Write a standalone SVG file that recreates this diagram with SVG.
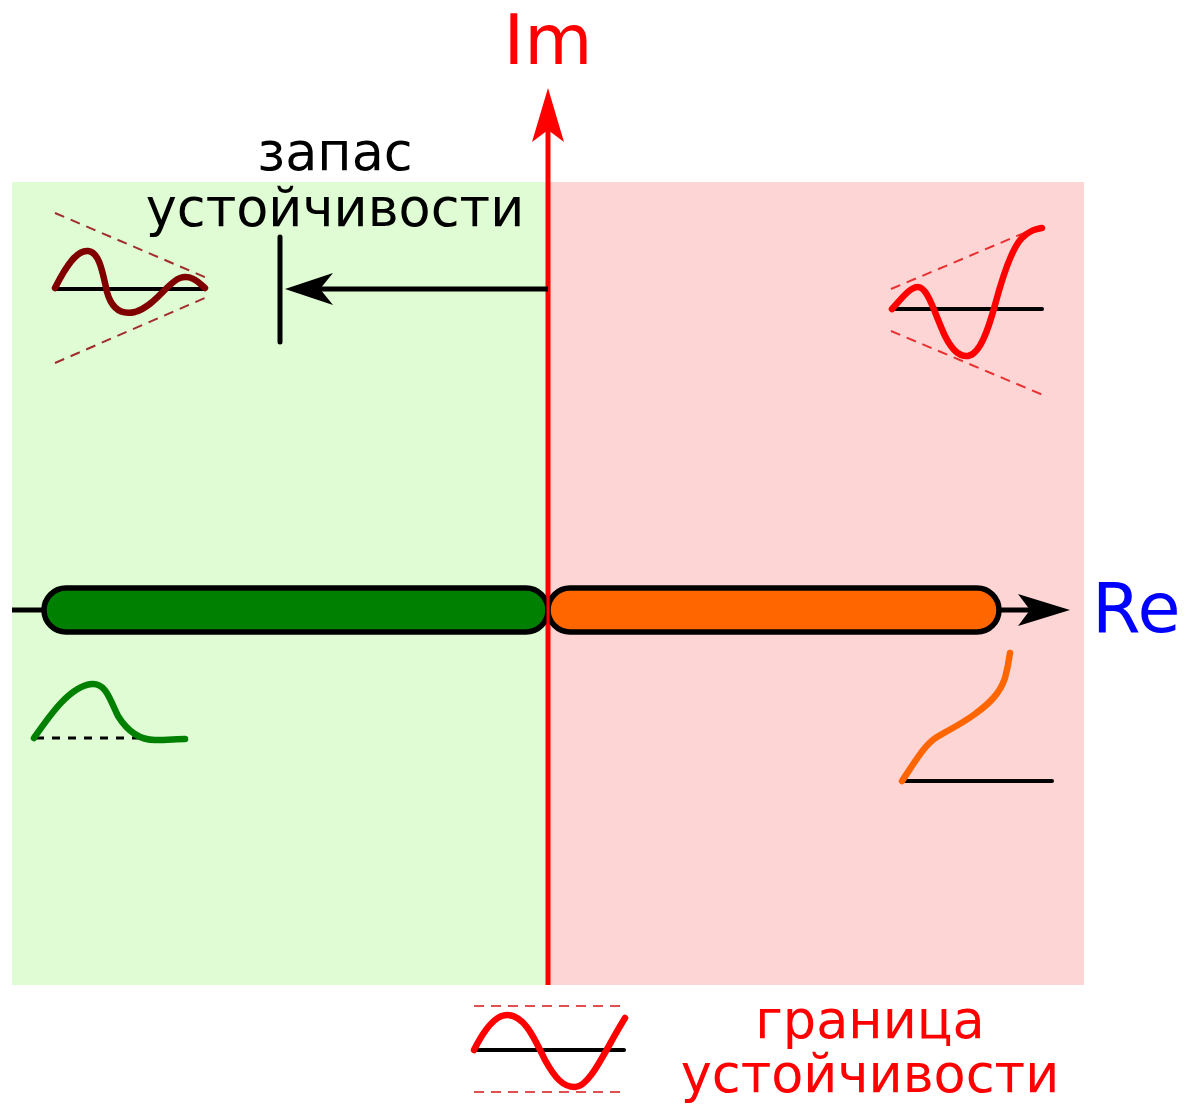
<svg xmlns="http://www.w3.org/2000/svg" width="1199" height="1104" viewBox="0 0 1199 1104">
<style>
.lbl{font-family:"DejaVu Sans",sans-serif;}
.base{stroke:#000;stroke-width:4;fill:none;stroke-linecap:round}
.curve{fill:none;stroke-width:6.5;stroke-linecap:round;stroke-linejoin:round}
.dash{fill:none;stroke-width:2;stroke-dasharray:10,7}
</style>
<rect width="1199" height="1104" fill="#fff"/>
<rect id="stable" x="12" y="182" width="536" height="803" fill="#e0fcd4"/>
<rect id="unstable" x="548" y="182" width="536" height="803" fill="#fdd5d5"/>

<g id="connectors">
<line x1="12" y1="610" x2="1040" y2="610" stroke="#000" stroke-width="5"/>
<path d="M1070,610 L1018,594 L1030,610 L1018,626 Z" fill="#000"/>
<line x1="548" y1="985" x2="548" y2="130" stroke="#f00" stroke-width="5"/>
<path d="M548,88 L564,142 L548,130 L532,142 Z" fill="#f00"/>
<line x1="548" y1="289" x2="310" y2="289" stroke="#000" stroke-width="5"/>
<path d="M285,289 L333,273 L320,289 L333,305 Z" fill="#000"/>
<line x1="280" y1="237" x2="280" y2="342" stroke="#000" stroke-width="5" stroke-linecap="round"/>
</g>

<g id="bar-stable">
<rect x="44" y="588" width="504" height="44" rx="22" fill="#008000" stroke="#000" stroke-width="5.5"/>
</g>
<g id="bar-unstable">
<rect x="548" y="588" width="451" height="44" rx="22" fill="#ff6600" stroke="#000" stroke-width="5.5"/>
</g>
<line x1="548" y1="586" x2="548" y2="634" stroke="#f00" stroke-width="3"/>

<g id="label-im"><text class="lbl" x="548" y="64" font-size="70" fill="#f00" text-anchor="middle">Im</text></g>
<g id="label-re"><text class="lbl" x="1092" y="632" font-size="70" fill="#00f">Re</text></g>

<g id="label-margin">
<text class="lbl" x="335" y="170" font-size="52.5" fill="#000" text-anchor="middle">запас</text>
<text class="lbl" x="335" y="226" font-size="52.5" fill="#000" text-anchor="middle">устойчивости</text>
</g>
<g id="label-boundary">
<text class="lbl" x="870" y="1038" font-size="52.5" fill="#f00" text-anchor="middle">граница</text>
<text class="lbl" x="870" y="1092" font-size="52.5" fill="#f00" text-anchor="middle">устойчивости</text>
</g>

<g id="icon-damped-osc">
<line x1="55" y1="213" x2="207" y2="278" class="dash" stroke="#a02c2c"/>
<line x1="55" y1="363" x2="207" y2="297" class="dash" stroke="#a02c2c"/>
<line x1="56" y1="289" x2="204" y2="289" class="base"/>
<path class="curve" stroke="#800000" d="M55,288 C68,262 78,250 88,251 C100,252 103,275 107,292 C112,310 122,315 135,312 C155,306 168,282 180,278 C192,274 200,284 205,288"/>
</g>

<g id="icon-growing-osc">
<line x1="891" y1="289" x2="1043" y2="225" class="dash" stroke="#e83030"/>
<line x1="891" y1="331" x2="1043" y2="395" class="dash" stroke="#e83030"/>
<line x1="893" y1="309" x2="1042" y2="309" class="base"/>
<path class="curve" stroke="#f00" d="M892,309 C902,298 910,287 918,287 C928,287 935,315 945,336 C953,352 960,357 968,356 C980,354 988,330 995,305 C1003,275 1012,248 1022,238 C1030,230 1036,229 1042,228"/>
</g>

<g id="icon-aperiodic-stable">
<line x1="36" y1="738" x2="140" y2="738" stroke="#000" stroke-width="3" stroke-dasharray="8,8"/>
<path class="curve" stroke="#008000" d="M34,738 C50,715 70,686 92,684 C106,683 110,700 118,716 C128,732 140,740 155,740 C168,740 176,739 185,739"/>
</g>

<g id="icon-aperiodic-unstable">
<line x1="903" y1="781" x2="1052" y2="781" class="base"/>
<path class="curve" stroke="#ff6600" d="M902,781 C915,762 924,745 937,737 C950,729 960,725 975,714 C990,703 1000,693 1005,678 C1008,667 1009,660 1010,653"/>
</g>

<g id="icon-boundary">
<line x1="474" y1="1006" x2="622" y2="1006" class="dash" stroke="#e05050"/>
<line x1="474" y1="1092" x2="622" y2="1092" class="dash" stroke="#e05050"/>
<line x1="476" y1="1050" x2="624" y2="1050" class="base"/>
<path class="curve" stroke="#f00" d="M474,1050 C484,1030 495,1015 507,1015 C525,1015 535,1040 545,1060 C555,1078 563,1087 575,1087 C590,1087 605,1050 625,1018"/>
</g>
</svg>
